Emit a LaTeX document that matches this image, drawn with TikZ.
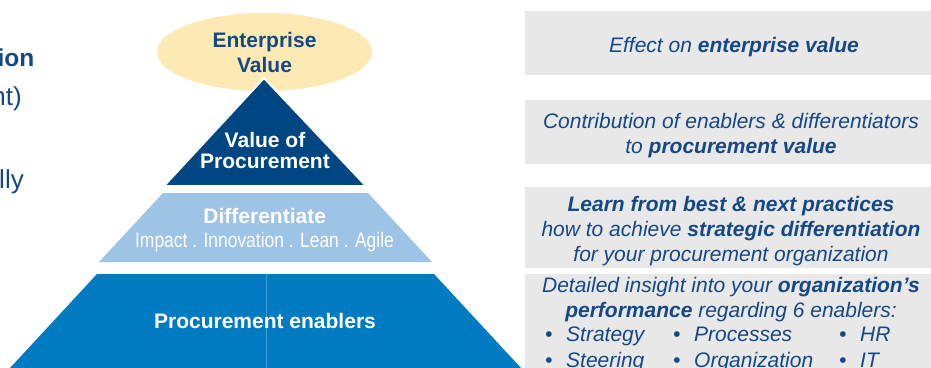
\documentclass[tikz,border=0pt]{standalone}
\usepackage{fontspec}
\setmainfont{Liberation Sans}
\newfontfamily\narrowfont[FakeStretch=0.83]{Liberation Sans}
\usetikzlibrary{positioning, shapes.geometric}
\definecolor{myblue}{RGB}{0,70,130}
\definecolor{mytext}{RGB}{20,72,135}
\definecolor{mylight}{RGB}{157,195,230}
\definecolor{mymid}{RGB}{0,122,193}
\definecolor{myline}{RGB}{70,155,215}
\definecolor{myyellow}{RGB}{252,233,180}
\definecolor{mygrey}{RGB}{232,232,232}
\tikzset{
  greybox/.style={fill=mygrey, draw=none, minimum width=412, minimum height=64,
    inner sep=0},
  sidetext/.style={text=mytext, align=center, inner sep=0, anchor=base,
    font=\fontsize{21}{25}\selectfont\itshape},
  pyrtext/.style={text=white, align=center, inner sep=0,
    font=\fontsize{21}{21}\selectfont\bfseries},
  lefttext/.style={text=mytext, anchor=base east, inner sep=0,
    font=\fontsize{26}{30}\selectfont},
  enabler/.style={text=mytext, anchor=base west, inner sep=0,
    font=\fontsize{21}{25}\selectfont\itshape}
}
\newcommand{\enab}[1]{\makebox[1em][l]{\textbullet}#1}
\begin{document}
\begin{tikzpicture}[x=1pt,y=-1pt]
\useasboundingbox (0,0) rectangle (931,367);

% cut-off text on the left
\node [lefttext, font=\fontsize{24.5}{30}\selectfont\bfseries] (l1) at (34.5,66) {ion};
\node [lefttext] (l2) at (22,105) {nt)};
\node [lefttext] (l3) at (24,188) {lly};


% pyramid
\node [ellipse, fill=myyellow, minimum width=215, minimum height=78, inner sep=0,
  text=mytext, align=center, font=\fontsize{21}{25}\selectfont\bfseries] (ev) at (264.5,52) {Enterprise\\Value};

\filldraw [fill=myblue, draw=white, line width=2] (264,78) -- (366,186) -- (164,186) -- cycle;
\fill [mylight] (163,193) -- (368,193) -- (432,262) -- (99,262) -- cycle;
\fill [mymid] (97,274) -- (434,274) -- (521,368) -- (10,368) -- cycle;
\draw [myline, line width=0.8] (266,274) -- (266,368);

\node [pyrtext] (vop) at (265,150) {Value of\\Procurement};
\node [pyrtext, anchor=base] (diff) at (264.7,223) {Differentiate};
\node [pyrtext, anchor=base, font=\fontsize{21}{21}\selectfont\narrowfont] (impact) at (264.5,247) {Impact . Innovation . Lean . Agile};
\node [pyrtext, anchor=base] (enab) at (265,328) {Procurement enablers};


% grey boxes on the right
\node [greybox] (b1) at (731,43) {};
\node [greybox] (b2) at (731,132) {};
\node [greybox, minimum height=81] (b3) at (731,227.5) {};
\node [greybox, minimum height=120, anchor=north] (b4) at (731,274) {};

% text anchored at the baseline of the last line
\node [sidetext] (t1) at (734,52) {Effect on \textbf{enterprise value}};
\node [sidetext] (t2) at (731,153) {Contribution of enablers \& differentiators\\to \textbf{procurement value}};
\node [sidetext] (t3) at (731,261) {\textbf{Learn from best \& next practices}\\how to achieve \textbf{strategic differentiation}\\for your procurement organization};
\node [sidetext] (t4) at (731,317) {Detailed insight into your \textbf{organization’s}\\\textbf{performance} regarding 6 enablers:};

\node [enabler] (e1) at (545,341) {\enab{Strategy}};
\node [enabler] (e2) at (673,341) {\enab{Processes}};
\node [enabler] (e3) at (839,341) {\enab{HR}};
\node [enabler] (e4) at (545,367) {\enab{Steering}};
\node [enabler] (e5) at (673,367) {\enab{Organization}};
\node [enabler] (e6) at (839,367) {\enab{IT}};

\end{tikzpicture}
\end{document}
